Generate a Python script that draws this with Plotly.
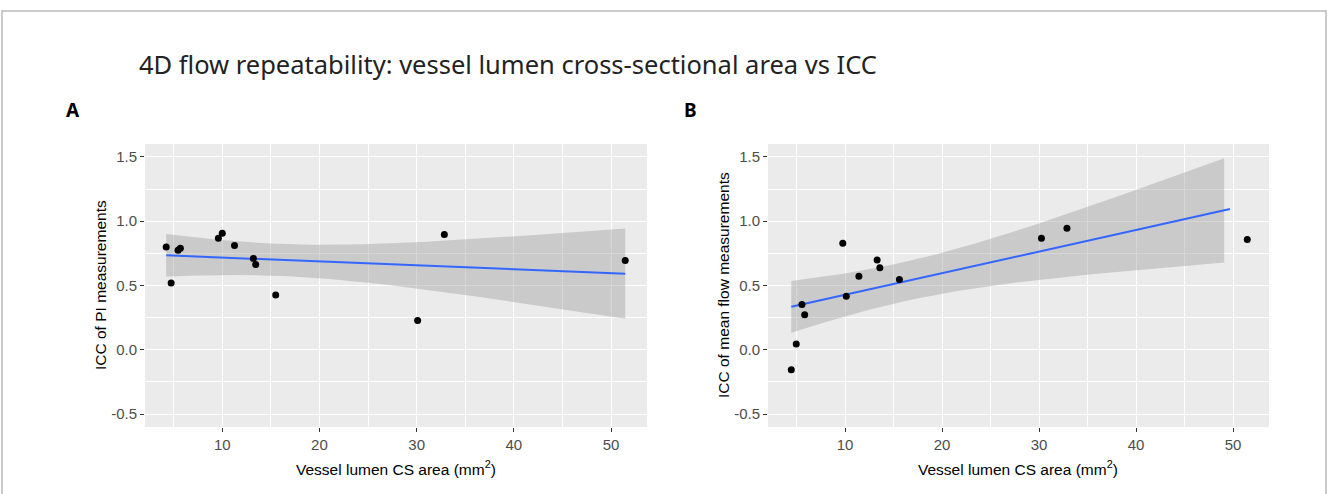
import numpy as np
import plotly.graph_objects as go

# ---------------- data ----------------
area_a = [4.23, 4.74, 5.45, 5.69, 9.6, 10.0, 11.26, 13.2, 13.44, 15.5, 30.1, 32.85, 51.46]
icc_pi = [0.80, 0.52, 0.775, 0.79, 0.867, 0.906, 0.81, 0.71, 0.664, 0.427, 0.227, 0.896, 0.695]

area_b = [4.45, 4.96, 5.55, 5.83, 9.76, 10.12, 11.42, 13.3, 13.58, 15.6, 30.24, 32.87, 51.46]
icc_flow = [-0.154, 0.046, 0.353, 0.273, 0.829, 0.417, 0.571, 0.698, 0.638, 0.546, 0.867, 0.945, 0.857]

line_end_b = 50.2  # fitted line in panel B stops here in the reference

x_ticks = [10, 20, 30, 40, 50]
x_tick_text = ["10", "20", "30", "40", "50"]
y_ticks = [-0.5, 0.0, 0.5, 1.0, 1.5]
y_tick_text = ["-0.5", "0.0", "0.5", "1.0", "1.5"]
y_limits = [-0.5, 1.5]

title = "4D flow repeatability: vessel lumen cross-sectional area vs ICC"
ytitle_a = "ICC of PI measurements"
ytitle_b = "ICC of mean flow measurements"
xtitle = "Vessel lumen CS area (mm<sup>2</sup>)"

# ---------------- linear fit with 95% CI (like geom_smooth(method='lm')) -------------
T975_DF11 = 2.200985


def lm_fit(x, y, n=80):
    x = np.asarray(x, float)
    y = np.asarray(y, float)
    b1, b0 = np.polyfit(x, y, 1)
    resid = y - (b0 + b1 * x)
    s = np.sqrt(np.sum(resid ** 2) / (len(x) - 2))
    sxx = np.sum((x - x.mean()) ** 2)
    g = np.linspace(x.min(), x.max(), n)
    fit = b0 + b1 * g
    se = s * np.sqrt(1 / len(x) + (g - x.mean()) ** 2 / sxx)
    return g, fit, fit - T975_DF11 * se, fit + T975_DF11 * se


W, H = 1328, 494
ax_a = (145 / W, 647 / W)
ax_b = (768 / W, 1269 / W)
ax_y = (1 - 427 / H, 1 - 144 / H)

fig = go.Figure()

for i, (xs, ys) in enumerate([(area_a, icc_pi), (area_b, icc_flow)]):
    xa = "x" if i == 0 else "x2"
    ya = "y" if i == 0 else "y2"
    g, fit, lo, hi = lm_fit(xs, ys)
    ok = (lo >= y_limits[0]) & (hi <= y_limits[1])
    gr, lor, hir = g[ok], lo[ok], hi[ok]
    fig.add_trace(go.Scatter(
        x=list(gr) + list(gr[::-1]), y=list(hir) + list(lor[::-1]),
        fill="toself", fillcolor="rgba(153,153,153,0.4)", line=dict(width=0),
        mode="lines", hoverinfo="skip", showlegend=False, xaxis=xa, yaxis=ya))
    if i == 1:
        keep = g <= line_end_b
        gl, fl = g[keep], fit[keep]
    else:
        gl, fl = g, fit
    fig.add_trace(go.Scatter(
        x=gl, y=fl, mode="lines", line=dict(color="#3366FF", width=2),
        showlegend=False, xaxis=xa, yaxis=ya))
    fig.add_trace(go.Scatter(
        x=xs, y=ys, mode="markers", marker=dict(color="black", size=7),
        showlegend=False, xaxis=xa, yaxis=ya))

tickfont = dict(family="Liberation Sans, Arial", size=15, color="#4D4D4D")
common_x = dict(range=[2.05, 53.7], tickvals=x_ticks, ticktext=x_tick_text,
                showgrid=True, gridcolor="white", gridwidth=1.3, zeroline=False,
                ticks="outside", ticklen=4, tickcolor="#333333", tickwidth=1,
                tickfont=tickfont, showline=False,
                minor=dict(dtick=5, tick0=0, showgrid=True, gridcolor="white",
                           gridwidth=0.6, ticks=""))
common_y = dict(range=[-0.6, 1.6], tickvals=y_ticks, ticktext=y_tick_text,
                showgrid=True, gridcolor="white", gridwidth=1.3, zeroline=False,
                ticks="outside", ticklen=4, tickcolor="#333333", tickwidth=1,
                tickfont=tickfont, showline=False,
                minor=dict(dtick=0.25, tick0=0, showgrid=True, gridcolor="white",
                           gridwidth=0.6, ticks=""))

fig.update_layout(
    width=W, height=H,
    margin=dict(l=0, r=0, t=0, b=0),
    paper_bgcolor="white", plot_bgcolor="#EBEBEB",
    xaxis=dict(domain=list(ax_a), anchor="y", **common_x),
    yaxis=dict(domain=list(ax_y), anchor="x", **common_y),
    xaxis2=dict(domain=list(ax_b), anchor="y2", **common_x),
    yaxis2=dict(domain=list(ax_y), anchor="x2", **common_y),
)

axis_font = dict(family="Liberation Sans, Arial", size=15.5, color="black")
ann = [
    dict(text=title, x=137 / W, y=1 - 64 / H, xanchor="left", yanchor="middle",
         font=dict(family="Noto Sans", size=25.5, color="#222222")),
    dict(text="<b>A</b>", x=64 / W, y=1 - 110 / H, xanchor="left", yanchor="middle",
         font=dict(family="Noto Sans", size=19, color="black")),
    dict(text="<b>B</b>", x=682 / W, y=1 - 110 / H, xanchor="left", yanchor="middle",
         font=dict(family="Noto Sans", size=19, color="black")),
    dict(text=ytitle_a, x=100 / W, y=1 - 285 / H, textangle=-90,
         xanchor="center", yanchor="middle", font=axis_font),
    dict(text=ytitle_b, x=723 / W, y=1 - 285 / H, textangle=-90,
         xanchor="center", yanchor="middle", font=axis_font),
    dict(text=xtitle, x=396 / W, y=1 - 468 / H, xanchor="center", yanchor="middle",
         font=axis_font),
    dict(text=xtitle, x=1018 / W, y=1 - 468 / H, xanchor="center", yanchor="middle",
         font=axis_font),
]
for a in ann:
    a.update(xref="paper", yref="paper", showarrow=False)
fig.update_layout(annotations=ann)

# outer frame of the figure
fig.add_shape(type="rect", xref="paper", yref="paper",
              x0=2 / W, x1=1326 / W, y0=-0.05, y1=1 - 11 / H,
              line=dict(color="#BBBBBB", width=1.5), fillcolor="rgba(0,0,0,0)", layer="below")

fig.write_html("out.html", config={"displayModeBar": False},
               post_script="document.body.style.margin='0';")
